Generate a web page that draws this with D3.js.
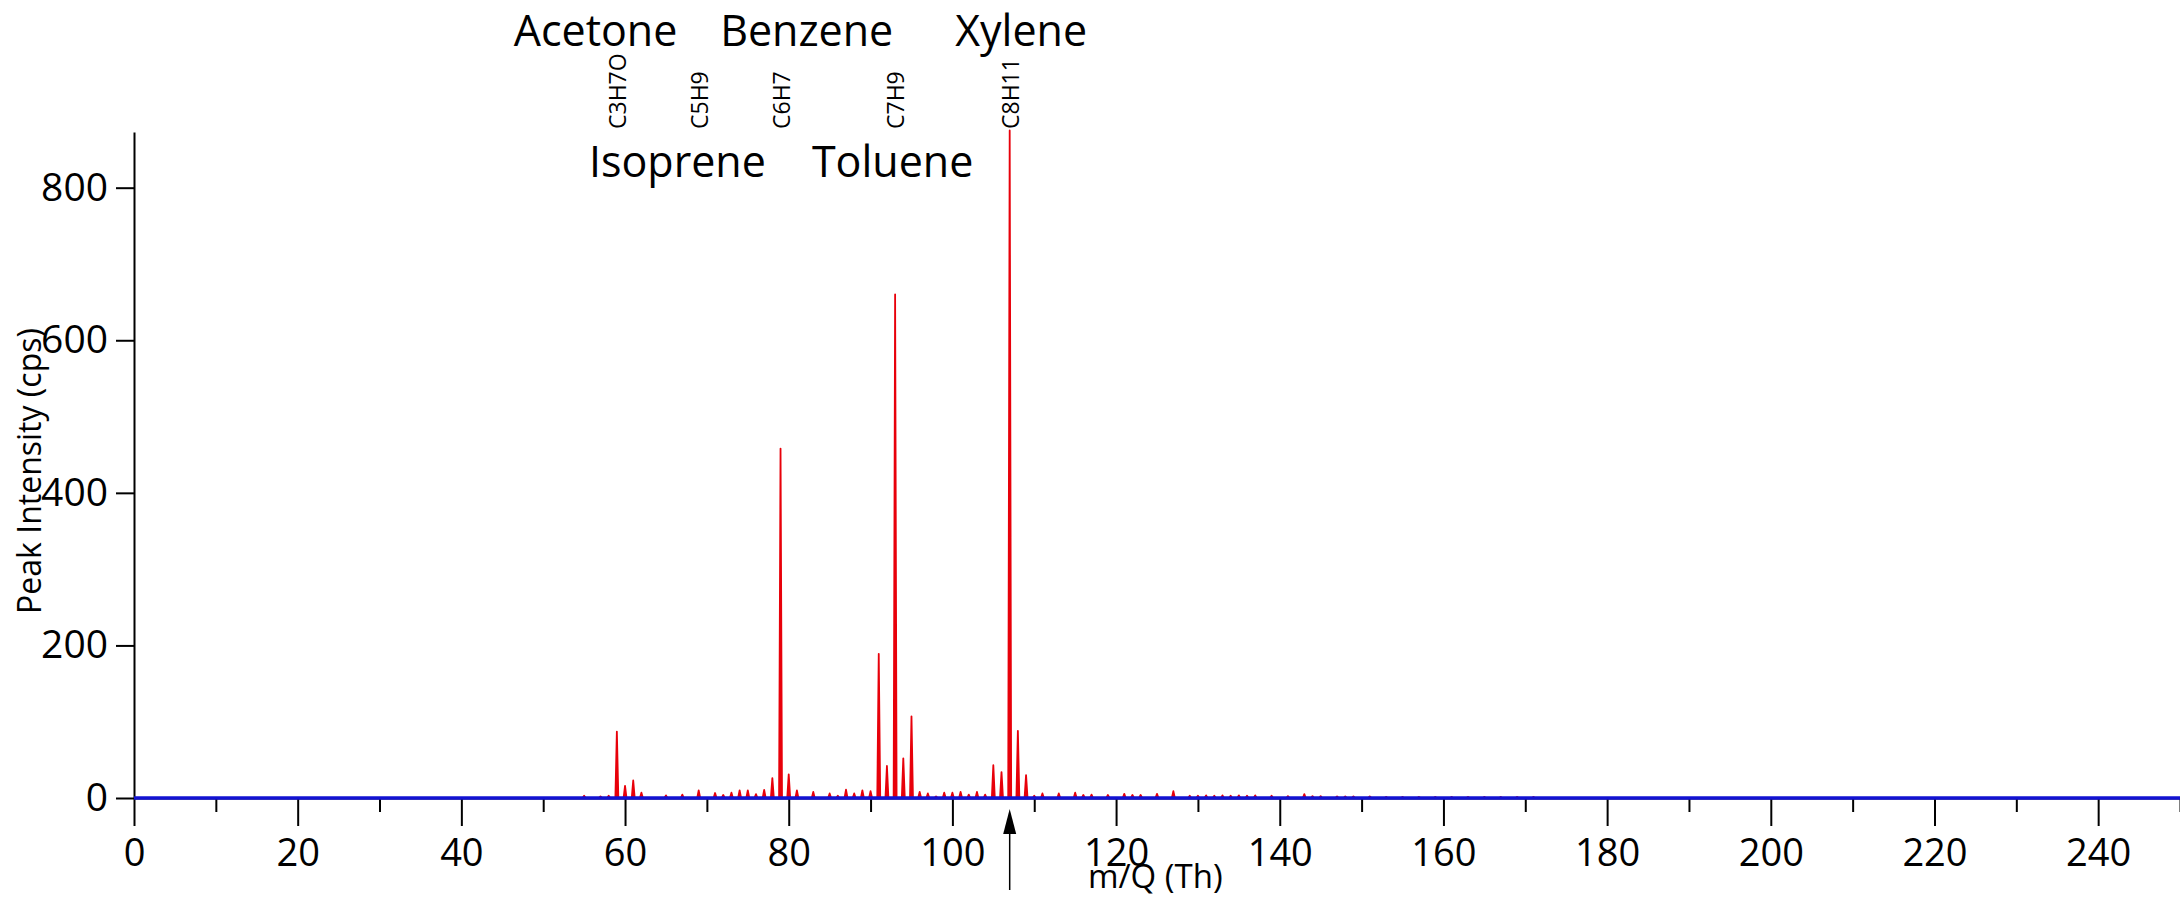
<!DOCTYPE html>
<head>
    <meta charset="utf-8">
    <title>Mass Spectrum</title>
    <script type="text/javascript" src="https://d3js.org/d3.v7.min.js"></script>
    <style>
        body { margin: 0; background: #fff; }
        text { font-family: "Open Sans", "Noto Sans", sans-serif; fill: #000; }
        .axis path, .axis line { stroke: #000; stroke-width: 2; }
    </style>
</head>
<body>
<div id="container"></div>

<script>
    //-----------------------------DATA-----------------------------//
    // peak positions (m/Q, Th) and peak intensities (cps)
    const peakMass = [55, 57, 58, 59, 60, 61, 62, 65, 67, 69, 71, 72, 73, 74, 75, 76, 77, 78, 79, 80,
        81, 83, 85, 86, 87, 88, 89, 90, 91, 92, 93, 94, 95, 96, 97, 98, 99, 100, 101, 102,
        103, 104, 105, 106, 107, 108, 109, 110, 111, 113, 115, 116, 117, 119, 121, 122, 123, 125, 127, 129,
        130, 131, 132, 133, 134, 135, 136, 137, 139, 141, 143, 144, 145, 147, 148, 149, 151, 153, 155, 157,
        159, 161, 163, 165, 167, 169, 171];
    const peakIntensity = [3, 2, 3, 87, 16, 23, 7, 3.5, 4.5, 10, 6.5, 4, 7, 10, 10, 5, 10.5, 26, 458, 31,
        10, 8, 6, 3, 11, 6, 10, 9, 189, 42, 660, 52, 107, 8, 6, 2, 7, 7, 8, 4.5,
        8, 4.5, 43, 34, 875, 88, 30, 3, 6, 6, 7, 4, 4.5, 4, 5.5, 4, 4, 5.5, 9, 3,
        3, 3.5, 3, 3.5, 3, 3.5, 3, 3.5, 3, 2.5, 5, 2.5, 2.5, 2, 2, 2, 2, 1.5, 1.5, 1.5,
        1.5, 1.5, 1.5, 1.5, 1.5, 1.5, 1.5];

    // ion formula labels, placed at their peak
    const ionLabels = ["C3H7O", "C5H9", "C6H7", "C7H9", "C8H11"];
    const ionMass = [59, 69, 79, 93, 107];

    // compound names (upper row / lower row), centred at m/Q
    const upperNames = ["Acetone", "Benzene", "Xylene"];
    const upperPos = [56.4, 82.2, 108.4];
    const lowerNames = ["Isoprene", "Toluene"];
    const lowerPos = [66.4, 92.7];

    const xMajorTicks = [0, 20, 40, 60, 80, 100, 120, 140, 160, 180, 200, 220, 240];
    const xMinorTicks = [10, 30, 50, 70, 90, 110, 130, 150, 170, 190, 210, 230, 250];
    const yTicks = [0, 200, 400, 600, 800];
    const markerMass = 107;

    //------------------------1. PREPARATION------------------------//
    const width = 2180;
    const height = 899;
    const margin = {top: 132, right: 0, bottom: 101, left: 134};

    const svg = d3.select("div#container").append("svg")
        .attr("width", width)
        .attr("height", height);

    //----------------------------SCALES----------------------------//
    const xScale = d3.scaleLinear().domain([0, 250]).range([margin.left, width - margin.right]);
    const yScale = d3.scaleLinear().domain([0, 873]).range([height - margin.bottom, margin.top]);

    //-----------------------------AXES-----------------------------//
    const xaxis = d3.axisBottom(xScale)
        .tickValues(xMajorTicks)
        .tickSize(28)
        .tickSizeOuter(0)
        .tickPadding(13)
        .tickFormat(d3.format("d"));

    const xaxisMinor = d3.axisBottom(xScale)
        .tickValues(xMinorTicks)
        .tickSize(14)
        .tickSizeOuter(0)
        .tickFormat("");

    const yaxis = d3.axisLeft(yScale)
        .tickValues(yTicks)
        .tickSize(18)
        .tickSizeOuter(0)
        .tickPadding(8);

    const gx = svg.append("g")
        .attr("class", "axis")
        .attr("transform", "translate(0," + yScale(0) + ")")
        .call(xaxis);
    gx.selectAll("text").style("font-size", "38px");

    svg.append("g")
        .attr("class", "axis")
        .attr("transform", "translate(0," + yScale(0) + ")")
        .call(xaxisMinor)
        .select(".domain").remove();

    const gy = svg.append("g")
        .attr("class", "axis")
        .attr("transform", "translate(" + margin.left + ",0)")
        .call(yaxis);
    gy.selectAll("text").style("font-size", "39px");

    // axis titles
    svg.append("text")
        .attr("transform", "translate(28," + 471 + ") rotate(-90)")
        .attr("text-anchor", "middle")
        .attr("dominant-baseline", "central")
        .style("font-size", "32px")
        .text("Peak Intensity (cps)");

    svg.append("text")
        .attr("x", xScale(124.8))
        .attr("y", 888)
        .attr("text-anchor", "middle")
        .style("font-size", "33px")
        .text("m/Q (Th)");

    //----------------------------PEAKS-----------------------------//
    const peaks = peakMass.map(function(m, i) { return {mass: m, value: peakIntensity[i]}; });

    const spike = function(d) {
        return "M" + xScale(d.mass - 0.18) + "," + yScale(0)
            + "L" + xScale(d.mass) + "," + yScale(d.value)
            + "L" + xScale(d.mass + 0.18) + "," + yScale(0) + "Z";
    };

    svg.append("g")
        .selectAll("path")
        .data(peaks)
        .enter()
        .append("path")
        .attr("d", spike)
        .style("fill", "#e8000a")
        .style("stroke", "#e8000a")
        .style("stroke-width", 1.8)
        .style("stroke-linejoin", "round");

    // baseline trace
    const line = d3.line()
        .x(function(d) { return xScale(d); })
        .y(function() { return yScale(0); });

    svg.append("path")
        .attr("d", line([0, 250]))
        .style("fill", "none")
        .style("stroke", "#1212d2")
        .style("stroke-width", 3.5);

    //----------------------------LABELS----------------------------//
    svg.append("g")
        .selectAll("text")
        .data(ionLabels)
        .enter()
        .append("text")
        .attr("transform", function(d, i) {
            return "translate(" + xScale(ionMass[i]) + ",129) rotate(-90)";
        })
        .attr("dominant-baseline", "central")
        .style("font-size", "23px")
        .text(function(d) { return d; });

    svg.append("g")
        .selectAll("text")
        .data(upperNames)
        .enter()
        .append("text")
        .attr("x", function(d, i) { return xScale(upperPos[i]); })
        .attr("y", 46)
        .attr("text-anchor", "middle")
        .style("font-size", "43px")
        .text(function(d) { return d; });

    svg.append("g")
        .selectAll("text")
        .data(lowerNames)
        .enter()
        .append("text")
        .attr("x", function(d, i) { return xScale(lowerPos[i]); })
        .attr("y", 177)
        .attr("text-anchor", "middle")
        .style("font-size", "43px")
        .text(function(d) { return d; });

    //----------------------------MARKER----------------------------//
    const mx = xScale(markerMass);
    svg.append("line")
        .attr("x1", mx).attr("x2", mx)
        .attr("y1", 830).attr("y2", 890)
        .style("stroke", "#000")
        .style("stroke-width", 1.5);

    svg.append("path")
        .attr("d", "M" + mx + ",809L" + (mx - 6.5) + ",834L" + (mx + 6.5) + ",834Z")
        .style("fill", "#000");
</script>
</body>
